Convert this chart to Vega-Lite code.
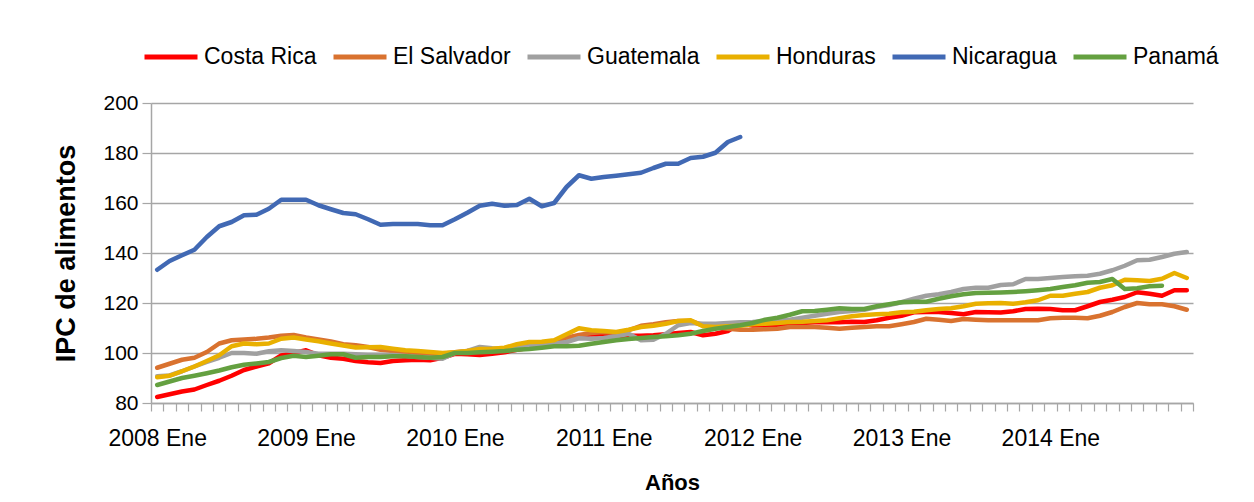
{
  "$schema": "https://vega.github.io/schema/vega-lite/v6.json",
  "width": 1042,
  "height": 300,
  "autosize": {"type": "none"},
  "padding": {"left": 151, "top": 103, "right": 61, "bottom": 99},
  "background": "white",
  "data": {
    "values": [
      {"m": "2008 Ene", "Costa Rica": 82.4, "El Salvador": 94.1, "Guatemala": 90.7, "Honduras": 90.3, "Nicaragua": 133.3, "Panamá": 87.2},
      {"m": "2008 Feb", "Costa Rica": 83.5, "El Salvador": 95.7, "Guatemala": 91.0, "Honduras": 90.9, "Nicaragua": 136.8, "Panamá": 88.6},
      {"m": "2008 Mar", "Costa Rica": 84.6, "El Salvador": 97.3, "Guatemala": 92.7, "Honduras": 92.7, "Nicaragua": 139.1, "Panamá": 90.0},
      {"m": "2008 Abr", "Costa Rica": 85.4, "El Salvador": 98.1, "Guatemala": 94.6, "Honduras": 94.6, "Nicaragua": 141.3, "Panamá": 90.9},
      {"m": "2008 May", "Costa Rica": 87.2, "El Salvador": 100.4, "Guatemala": 96.4, "Honduras": 96.8, "Nicaragua": 146.4, "Panamá": 91.9},
      {"m": "2008 Jun", "Costa Rica": 88.9, "El Salvador": 103.8, "Guatemala": 98.1, "Honduras": 99.1, "Nicaragua": 150.7, "Panamá": 93.0},
      {"m": "2008 Jul", "Costa Rica": 90.9, "El Salvador": 105.1, "Guatemala": 100.0, "Honduras": 102.7, "Nicaragua": 152.4, "Panamá": 94.3},
      {"m": "2008 Ago", "Costa Rica": 93.2, "El Salvador": 105.4, "Guatemala": 100.0, "Honduras": 103.8, "Nicaragua": 155.1, "Panamá": 95.3},
      {"m": "2008 Sep", "Costa Rica": 94.6, "El Salvador": 105.7, "Guatemala": 99.7, "Honduras": 103.5, "Nicaragua": 155.3, "Panamá": 95.8},
      {"m": "2008 Oct", "Costa Rica": 95.9, "El Salvador": 106.2, "Guatemala": 100.7, "Honduras": 103.8, "Nicaragua": 157.7, "Panamá": 96.4},
      {"m": "2008 Nov", "Costa Rica": 99.0, "El Salvador": 106.9, "Guatemala": 101.1, "Honduras": 105.7, "Nicaragua": 161.3, "Panamá": 98.0},
      {"m": "2008 Dic", "Costa Rica": 100.0, "El Salvador": 107.2, "Guatemala": 100.8, "Honduras": 106.2, "Nicaragua": 161.3, "Panamá": 98.9},
      {"m": "2009 Ene", "Costa Rica": 101.1, "El Salvador": 106.2, "Guatemala": 100.4, "Honduras": 105.4, "Nicaragua": 161.3, "Panamá": 98.4},
      {"m": "2009 Feb", "Costa Rica": 99.1, "El Salvador": 105.4, "Guatemala": 99.7, "Honduras": 104.7, "Nicaragua": 159.1, "Panamá": 98.9},
      {"m": "2009 Mar", "Costa Rica": 98.1, "El Salvador": 104.6, "Guatemala": 99.7, "Honduras": 103.8, "Nicaragua": 157.5, "Panamá": 99.5},
      {"m": "2009 Abr", "Costa Rica": 97.7, "El Salvador": 103.5, "Guatemala": 99.7, "Honduras": 103.0, "Nicaragua": 156.0, "Panamá": 99.5},
      {"m": "2009 May", "Costa Rica": 96.8, "El Salvador": 103.1, "Guatemala": 99.5, "Honduras": 102.2, "Nicaragua": 155.5, "Panamá": 98.1},
      {"m": "2009 Jun", "Costa Rica": 96.3, "El Salvador": 102.4, "Guatemala": 99.3, "Honduras": 102.3, "Nicaragua": 153.5, "Panamá": 98.4},
      {"m": "2009 Jul", "Costa Rica": 96.0, "El Salvador": 101.3, "Guatemala": 99.3, "Honduras": 102.4, "Nicaragua": 151.3, "Panamá": 98.4},
      {"m": "2009 Ago", "Costa Rica": 96.8, "El Salvador": 100.8, "Guatemala": 99.2, "Honduras": 101.7, "Nicaragua": 151.6, "Panamá": 98.7},
      {"m": "2009 Sep", "Costa Rica": 97.1, "El Salvador": 100.4, "Guatemala": 98.8, "Honduras": 101.1, "Nicaragua": 151.6, "Panamá": 98.7},
      {"m": "2009 Oct", "Costa Rica": 97.3, "El Salvador": 100.0, "Guatemala": 98.4, "Honduras": 100.8, "Nicaragua": 151.6, "Panamá": 98.4},
      {"m": "2009 Nov", "Costa Rica": 97.1, "El Salvador": 99.7, "Guatemala": 98.1, "Honduras": 100.4, "Nicaragua": 151.1, "Panamá": 98.1},
      {"m": "2009 Dic", "Costa Rica": 98.1, "El Salvador": 99.7, "Guatemala": 97.7, "Honduras": 100.0, "Nicaragua": 151.1, "Panamá": 98.4},
      {"m": "2010 Ene", "Costa Rica": 99.7, "El Salvador": 100.3, "Guatemala": 100.0, "Honduras": 100.3, "Nicaragua": 153.5, "Panamá": 100.0},
      {"m": "2010 Feb", "Costa Rica": 99.5, "El Salvador": 100.8, "Guatemala": 100.8, "Honduras": 100.8, "Nicaragua": 156.1, "Panamá": 100.0},
      {"m": "2010 Mar", "Costa Rica": 99.2, "El Salvador": 101.3, "Guatemala": 102.4, "Honduras": 101.6, "Nicaragua": 158.9, "Panamá": 100.3},
      {"m": "2010 Abr", "Costa Rica": 99.7, "El Salvador": 101.3, "Guatemala": 101.9, "Honduras": 101.7, "Nicaragua": 159.7, "Panamá": 100.5},
      {"m": "2010 May", "Costa Rica": 100.3, "El Salvador": 101.6, "Guatemala": 101.6, "Honduras": 102.1, "Nicaragua": 158.9, "Panamá": 100.8},
      {"m": "2010 Jun", "Costa Rica": 101.3, "El Salvador": 102.7, "Guatemala": 102.1, "Honduras": 103.5, "Nicaragua": 159.2, "Panamá": 101.3},
      {"m": "2010 Jul", "Costa Rica": 102.1, "El Salvador": 103.2, "Guatemala": 102.7, "Honduras": 104.4, "Nicaragua": 161.7, "Panamá": 101.6},
      {"m": "2010 Ago", "Costa Rica": 102.7, "El Salvador": 102.4, "Guatemala": 103.1, "Honduras": 104.5, "Nicaragua": 158.7, "Panamá": 102.1},
      {"m": "2010 Sep", "Costa Rica": 103.7, "El Salvador": 103.7, "Guatemala": 103.7, "Honduras": 105.1, "Nicaragua": 160.0, "Panamá": 102.7},
      {"m": "2010 Oct", "Costa Rica": 105.1, "El Salvador": 106.1, "Guatemala": 104.4, "Honduras": 107.5, "Nicaragua": 166.4, "Panamá": 102.7},
      {"m": "2010 Nov", "Costa Rica": 106.7, "El Salvador": 107.2, "Guatemala": 105.9, "Honduras": 109.9, "Nicaragua": 171.1, "Panamá": 102.9},
      {"m": "2010 Dic", "Costa Rica": 107.5, "El Salvador": 108.0, "Guatemala": 105.7, "Honduras": 109.1, "Nicaragua": 169.7, "Panamá": 103.7},
      {"m": "2011 Ene", "Costa Rica": 107.1, "El Salvador": 108.4, "Guatemala": 106.0, "Honduras": 108.8, "Nicaragua": 170.4, "Panamá": 104.4},
      {"m": "2011 Feb", "Costa Rica": 106.7, "El Salvador": 108.0, "Guatemala": 106.7, "Honduras": 108.4, "Nicaragua": 170.9, "Panamá": 105.1},
      {"m": "2011 Mar", "Costa Rica": 106.9, "El Salvador": 109.1, "Guatemala": 107.7, "Honduras": 109.3, "Nicaragua": 171.5, "Panamá": 105.6},
      {"m": "2011 Abr", "Costa Rica": 106.9, "El Salvador": 110.9, "Guatemala": 105.1, "Honduras": 110.4, "Nicaragua": 172.1, "Panamá": 106.0},
      {"m": "2011 May", "Costa Rica": 107.1, "El Salvador": 111.5, "Guatemala": 105.3, "Honduras": 110.9, "Nicaragua": 174.0, "Panamá": 106.4},
      {"m": "2011 Jun", "Costa Rica": 107.5, "El Salvador": 112.3, "Guatemala": 107.7, "Honduras": 111.7, "Nicaragua": 175.7, "Panamá": 106.7},
      {"m": "2011 Jul", "Costa Rica": 108.0, "El Salvador": 112.8, "Guatemala": 111.1, "Honduras": 112.8, "Nicaragua": 175.7, "Panamá": 107.1},
      {"m": "2011 Ago", "Costa Rica": 108.4, "El Salvador": 112.8, "Guatemala": 112.0, "Honduras": 113.1, "Nicaragua": 178.0, "Panamá": 107.7},
      {"m": "2011 Sep", "Costa Rica": 107.1, "El Salvador": 111.1, "Guatemala": 111.7, "Honduras": 110.7, "Nicaragua": 178.5, "Panamá": 108.8},
      {"m": "2011 Oct", "Costa Rica": 107.7, "El Salvador": 110.4, "Guatemala": 111.7, "Honduras": 110.4, "Nicaragua": 180.1, "Panamá": 109.7},
      {"m": "2011 Nov", "Costa Rica": 108.8, "El Salvador": 109.7, "Guatemala": 112.0, "Honduras": 110.7, "Nicaragua": 184.4, "Panamá": 110.4},
      {"m": "2011 Dic", "Costa Rica": 112.0, "El Salvador": 109.3, "Guatemala": 112.3, "Honduras": 110.9, "Nicaragua": 186.4, "Panamá": 111.1},
      {"m": "2012 Ene", "Costa Rica": 111.0, "El Salvador": 109.3, "Guatemala": 112.4, "Honduras": 111.5, "Panamá": 112.0},
      {"m": "2012 Feb", "Costa Rica": 111.1, "El Salvador": 109.5, "Guatemala": 112.7, "Honduras": 111.7, "Panamá": 113.3},
      {"m": "2012 Mar", "Costa Rica": 110.7, "El Salvador": 109.7, "Guatemala": 113.1, "Honduras": 112.0, "Panamá": 114.1},
      {"m": "2012 Abr", "Costa Rica": 111.5, "El Salvador": 110.4, "Guatemala": 113.3, "Honduras": 112.4, "Panamá": 115.3},
      {"m": "2012 May", "Costa Rica": 112.0, "El Salvador": 110.4, "Guatemala": 114.1, "Honduras": 112.5, "Panamá": 116.7},
      {"m": "2012 Jun", "Costa Rica": 112.3, "El Salvador": 110.4, "Guatemala": 114.9, "Honduras": 112.8, "Panamá": 116.8},
      {"m": "2012 Jul", "Costa Rica": 112.3, "El Salvador": 110.1, "Guatemala": 115.7, "Honduras": 113.1, "Panamá": 117.3},
      {"m": "2012 Ago", "Costa Rica": 112.3, "El Salvador": 109.7, "Guatemala": 116.4, "Honduras": 113.9, "Panamá": 117.9},
      {"m": "2012 Sep", "Costa Rica": 112.5, "El Salvador": 110.1, "Guatemala": 116.8, "Honduras": 114.7, "Panamá": 117.6},
      {"m": "2012 Oct", "Costa Rica": 112.4, "El Salvador": 110.4, "Guatemala": 117.3, "Honduras": 115.2, "Panamá": 117.6},
      {"m": "2012 Nov", "Costa Rica": 113.1, "El Salvador": 110.7, "Guatemala": 118.4, "Honduras": 115.5, "Panamá": 118.7},
      {"m": "2012 Dic", "Costa Rica": 114.1, "El Salvador": 110.7, "Guatemala": 119.2, "Honduras": 115.7, "Panamá": 119.5},
      {"m": "2013 Ene", "Costa Rica": 114.9, "El Salvador": 111.5, "Guatemala": 120.3, "Honduras": 116.3, "Panamá": 120.3},
      {"m": "2013 Feb", "Costa Rica": 116.3, "El Salvador": 112.4, "Guatemala": 121.7, "Honduras": 116.5, "Panamá": 120.5},
      {"m": "2013 Mar", "Costa Rica": 116.4, "El Salvador": 113.7, "Guatemala": 122.9, "Honduras": 117.1, "Panamá": 120.5},
      {"m": "2013 Abr", "Costa Rica": 116.4, "El Salvador": 113.3, "Guatemala": 123.5, "Honduras": 117.6, "Panamá": 121.7},
      {"m": "2013 May", "Costa Rica": 116.0, "El Salvador": 112.8, "Guatemala": 124.4, "Honduras": 117.9, "Panamá": 122.7},
      {"m": "2013 Jun", "Costa Rica": 115.5, "El Salvador": 113.6, "Guatemala": 125.6, "Honduras": 118.7, "Panamá": 123.5},
      {"m": "2013 Jul", "Costa Rica": 116.4, "El Salvador": 113.3, "Guatemala": 126.1, "Honduras": 119.7, "Panamá": 124.0},
      {"m": "2013 Ago", "Costa Rica": 116.3, "El Salvador": 113.1, "Guatemala": 126.1, "Honduras": 119.9, "Panamá": 124.1},
      {"m": "2013 Sep", "Costa Rica": 116.2, "El Salvador": 113.1, "Guatemala": 127.2, "Honduras": 120.0, "Panamá": 124.2},
      {"m": "2013 Oct", "Costa Rica": 116.7, "El Salvador": 113.1, "Guatemala": 127.5, "Honduras": 119.7, "Panamá": 124.4},
      {"m": "2013 Nov", "Costa Rica": 117.6, "El Salvador": 113.1, "Guatemala": 129.6, "Honduras": 120.3, "Panamá": 124.7},
      {"m": "2013 Dic", "Costa Rica": 117.7, "El Salvador": 113.1, "Guatemala": 129.6, "Honduras": 121.1, "Panamá": 125.1},
      {"m": "2014 Ene", "Costa Rica": 117.6, "El Salvador": 113.9, "Guatemala": 130.0, "Honduras": 122.9, "Panamá": 125.6},
      {"m": "2014 Feb", "Costa Rica": 117.1, "El Salvador": 114.1, "Guatemala": 130.4, "Honduras": 122.9, "Panamá": 126.4},
      {"m": "2014 Mar", "Costa Rica": 117.1, "El Salvador": 114.1, "Guatemala": 130.7, "Honduras": 123.7, "Panamá": 127.1},
      {"m": "2014 Abr", "Costa Rica": 118.7, "El Salvador": 113.9, "Guatemala": 130.9, "Honduras": 124.4, "Panamá": 128.1},
      {"m": "2014 May", "Costa Rica": 120.4, "El Salvador": 114.9, "Guatemala": 131.7, "Honduras": 126.1, "Panamá": 128.4},
      {"m": "2014 Jun", "Costa Rica": 121.3, "El Salvador": 116.4, "Guatemala": 133.1, "Honduras": 127.1, "Panamá": 129.6},
      {"m": "2014 Jul", "Costa Rica": 122.4, "El Salvador": 118.4, "Guatemala": 134.9, "Honduras": 129.3, "Panamá": 125.6},
      {"m": "2014 Ago", "Costa Rica": 124.3, "El Salvador": 120.0, "Guatemala": 137.1, "Honduras": 129.1, "Panamá": 125.9},
      {"m": "2014 Sep", "Costa Rica": 123.7, "El Salvador": 119.5, "Guatemala": 137.3, "Honduras": 128.8, "Panamá": 126.7},
      {"m": "2014 Oct", "Costa Rica": 122.9, "El Salvador": 119.5, "Guatemala": 138.4, "Honduras": 129.7, "Panamá": 126.9},
      {"m": "2014 Nov", "Costa Rica": 125.1, "El Salvador": 118.7, "Guatemala": 139.7, "Honduras": 132.0},
      {"m": "2014 Dic", "Costa Rica": 125.1, "El Salvador": 117.3, "Guatemala": 140.4, "Honduras": 130.0}
    ]
  },
  "transform": [
    {"fold": ["Costa Rica", "El Salvador", "Guatemala", "Honduras", "Nicaragua", "Panamá"], "as": ["pais", "ipc"]},
    {"filter": "isValid(datum.ipc)"}
  ],
  "mark": {"type": "line", "strokeWidth": 4.5, "strokeJoin": "round", "strokeCap": "round"},
  "encoding": {
    "x": {
      "field": "m",
      "type": "ordinal",
      "sort": null,
      "bandPosition": 0.5,
      "scale": {"type": "band", "paddingInner": 0, "paddingOuter": 0},
      "axis": {
        "title": "Años",
        "tickBand": "extent",
        "labelExpr": "indexof('' + datum.value, 'Ene') >= 0 ? ('' + datum.value) : ''",
        "labelOverlap": false,
        "labelAngle": 0,
        "labelAlign": "center",
        "labelFontSize": 23,
        "labelPadding": 16,
        "tickSize": 8,
        "titleFontSize": 22,
        "titlePadding": 22
      }
    },
    "y": {
      "field": "ipc",
      "type": "quantitative",
      "scale": {"domain": [80, 200], "nice": false, "zero": false},
      "axis": {
        "title": "IPC de alimentos",
        "values": [80, 100, 120, 140, 160, 180, 200],
        "labelFontSize": 21,
        "labelPadding": 4,
        "tickSize": 9,
        "grid": true,
        "titleFontSize": 27,
        "titlePadding": 22
      }
    },
    "color": {
      "field": "pais",
      "type": "nominal",
      "scale": {
        "domain": ["Costa Rica", "El Salvador", "Guatemala", "Honduras", "Nicaragua", "Panamá"],
        "range": ["#FF0000", "#D9722F", "#A0A0A0", "#E9B000", "#4169B4", "#64A040"]
      },
      "legend": {
        "title": null,
        "orient": "none",
        "legendX": -9,
        "legendY": -75,
        "direction": "horizontal",
        "symbolType": "stroke",
        "symbolSize": 2809,
        "symbolStrokeWidth": 5,
        "labelFontSize": 23,
        "labelOffset": 4,
        "columnPadding": 6
      }
    }
  },
  "config": {
    "font": "Liberation Sans",
    "view": {"stroke": null},
    "axis": {
      "labelColor": "#000000",
      "titleColor": "#000000",
      "titleFontWeight": "bold",
      "domainColor": "#A6A6A6",
      "domainWidth": 1.5,
      "tickColor": "#A6A6A6",
      "tickWidth": 1.2,
      "gridColor": "#A6A6A6",
      "gridWidth": 1.5,
      "labelFont": "Liberation Sans",
      "titleFont": "Liberation Sans"
    },
    "axisX": {"grid": false},
    "legend": {"labelColor": "#000000", "labelFont": "Liberation Sans"}
  }
}
